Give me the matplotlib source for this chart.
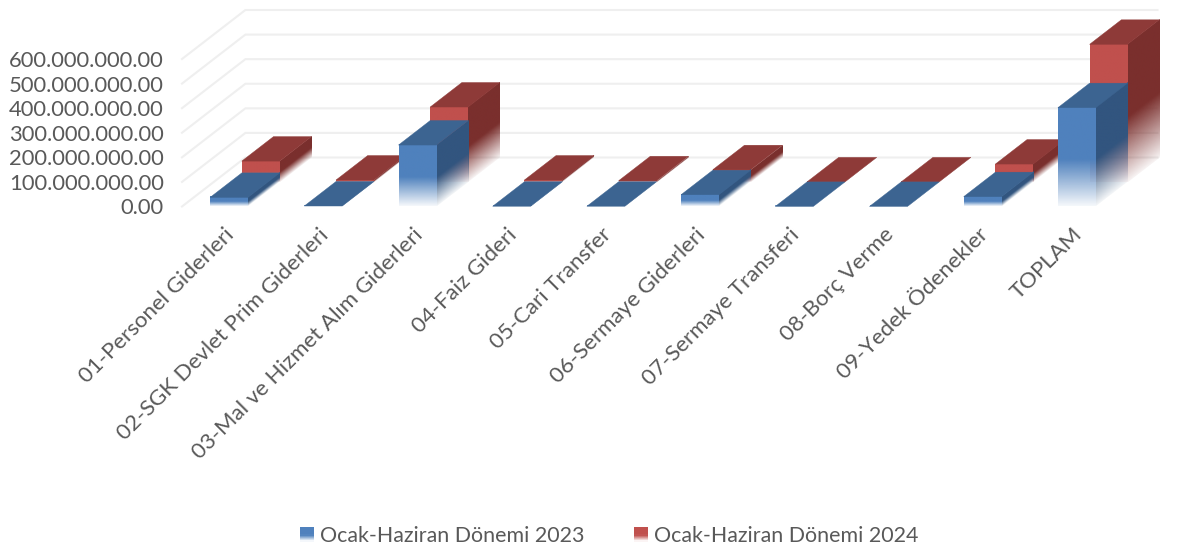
import numpy as np
import matplotlib
matplotlib.use("Agg")
import matplotlib.pyplot as plt
from matplotlib.colors import to_rgb
from matplotlib.patches import Polygon, Rectangle
from matplotlib.transforms import Affine2D, ScaledTranslation
from matplotlib.legend_handler import HandlerBase

categories = ["01-Personel Giderleri", "02-SGK Devlet Prim Giderleri",
              "03-Mal ve Hizmet Alım Giderleri", "04-Faiz Gideri", "05-Cari Transfer",
              "06-Sermaye Giderleri", "07-Sermaye Transferi", "08-Borç Verme",
              "09-Yedek Ödenekler", "TOPLAM"]
values_2023 = [37e6, 2e6, 250e6, 1e6, 1e6, 48e6, 0.3e6, 0.3e6, 40e6, 402e6]
values_2024 = [85e6, 8e6, 305e6, 8e6, 5e6, 50e6, 0.5e6, 0.5e6, 73e6, 560e6]
yticks = [0, 1e8, 2e8, 3e8, 4e8, 5e8, 6e8]
series_names = ["Ocak-Haziran Dönemi 2023", "Ocak-Haziran Dönemi 2024"]

plt.rcParams["font.family"] = ["Lato", "DejaVu Sans"]
TXT = "#595959"
W, H = 1180, 545
fig = plt.figure(figsize=(W / 100, H / 100), dpi=100)
X0, X1, Y0, Y1 = 182, 1124, 206.5, 59
ax = fig.add_axes([X0 / W, 1 - Y0 / H, (X1 - X0) / W, (Y0 - Y1) / H])
ax.set_xlim(0, 10)
ax.set_ylim(0, 6e8)
sx = 10 / (X1 - X0)
sy = 6e8 / (Y0 - Y1)
DX, DY = 31.7 * sx, 24.5 * sy        # depth of one bar row
BW = 38 * sx
GX = 1157.5

for v in yticks:
    ax.plot([0, 2 * DX, (GX - X0) * sx], [v, v + 2 * DY, v + 2 * DY], color="#efefef",
            lw=1.5, clip_on=False, zorder=1, solid_joinstyle="miter")


def fade(base, alpha_low=0.06, solid=0.53):
    t = np.linspace(0, 1, 128)           # 0 at top, 1 at bottom
    a = np.where(t < solid, 1.0, 1 - (1 - alpha_low) * (t - solid) / (1 - solid))
    img = np.ones((128, 1, 4))
    img[:, 0, :3] = to_rgb(base)
    img[:, 0, 3] = a
    return img


def face(p0, ex, ey, base, z):
    """gradient parallelogram: origin p0 (bottom left), edges ex, ey"""
    tr = Affine2D.from_values(ex[0], ex[1], ey[0], ey[1], p0[0], p0[1]) + ax.transData
    ax.imshow(fade(base), extent=(0, 1, 0, 1), origin="upper", aspect="auto",
              transform=tr, interpolation="bilinear", zorder=z, clip_on=False)


def bar3d(i, v, row, front, top, side, z):
    x = i + 0.5 - BW / 2 + row * DX
    b = row * DY
    face((x, b), (BW, 0), (0, v), front, z)
    face((x + BW, b), (DX, DY), (0, v), side, z)
    ax.add_patch(Polygon([(x, b + v), (x + BW, b + v), (x + BW + DX, b + v + DY), (x + DX, b + v + DY)],
                         closed=True, fc=top, ec=top, lw=0.3, zorder=z, clip_on=False))


for i, v in enumerate(values_2024):
    bar3d(i, v, 1, "#c0504d", "#8e3a38", "#7a2f2d", 3 + i * 0.01)
for i, v in enumerate(values_2023):
    bar3d(i, v, 0, "#4f81bd", "#3c6491", "#32557f", 4 + i * 0.01)

ax.set_xlim(0, 10)
ax.set_ylim(0, 6e8)
ax.set_aspect("auto")
for s in ax.spines.values():
    s.set_visible(False)
ax.patch.set_alpha(0)
ax.set_yticks(yticks)
ax.set_yticklabels([f"{v:,.2f}".replace(",", ".") for v in yticks], fontsize=15.8, color=TXT)
ax.tick_params(axis="y", length=0, pad=13)
ax.set_xticks(np.arange(10) + 0.5)
ax.set_xticklabels(categories, rotation=45, ha="right", va="top", rotation_mode="anchor",
                   fontsize=16.0, color=TXT)
ax.tick_params(axis="x", length=0, pad=13)
shift = ScaledTranslation(-5 / 100, 0, fig.dpi_scale_trans)
for lab in ax.get_xticklabels():
    lab.set_transform(lab.get_transform() + shift)


class GradKey(HandlerBase):
    def create_artists(self, legend, orig, xd, yd, width, height, fontsize, trans):
        out = []
        col = np.array(to_rgb(orig.get_facecolor()))
        n = 12
        for k in range(n):
            t = k / (n - 1)
            a = min(1.0, 0.06 + 0.94 * t / 0.47)
            c = col * a + (1 - a)
            out.append(Rectangle((-xd, -yd + height * k / n), width, height / n + 0.3,
                                 fc=c, ec="none", transform=trans))
        return out


handles = [Rectangle((0, 0), 1, 1, fc="#4f81bd"), Rectangle((0, 0), 1, 1, fc="#c0504d")]
fig.legend(handles, series_names, handler_map={Rectangle: GradKey()}, loc="center",
           bbox_to_anchor=(609 / W, 1 - 536 / H), ncol=2, frameon=False, fontsize=15.4,
           labelcolor=TXT, handlelength=0.65, handleheight=0.65, handletextpad=0.28,
           columnspacing=2.3, borderpad=0)

fig.savefig("out.png", dpi=100)
